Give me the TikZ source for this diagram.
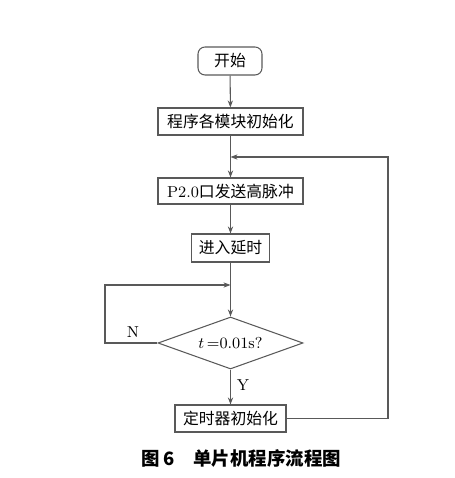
\documentclass[tikz,border=0pt]{standalone}
\usepackage{fontspec}
\newfontfamily\cjk{Noto Sans CJK SC}
\usepackage{tikz}
\usetikzlibrary{arrows.meta, shapes.geometric, calc}

\begin{document}
\begin{tikzpicture}[>={Stealth[length=4pt,width=3pt]},
    every node/.style={font=\fontsize{9}{11}\selectfont},
    line/.style={draw=black!65, line width=0.6pt},
    proc/.style={line, rectangle, minimum height=0.54cm, inner sep=2pt},
    term/.style={proc, rounded corners=4pt, minimum width=1.28cm, minimum height=0.56cm},
    cond/.style={line, diamond, aspect=2.8, inner sep=0pt, minimum width=2.9cm, minimum height=1.04cm}]
    \useasboundingbox (0,0) rectangle (9.1,9.56);
    \node[term] (start) at (4.6,8.34) {\cjk 开始};
    \node[proc, minimum width=2.9cm] (init) at (4.61,7.13) {\cjk 程序各模块初始化};
    \coordinate (j1) at (4.61,6.42);
    \node[proc, minimum width=2.9cm, minimum height=0.52cm] (pulse) at (4.61,5.74) {P2.0{\cjk 口发送高脉冲}};
    \node[proc, minimum width=1.56cm, minimum height=0.56cm] (delay) at (4.61,4.6) {\cjk 进入延时};
    \coordinate (j2) at (4.61,3.86);
    \node[cond] (test) at (4.61,2.7) {$t$\,=0.01s?};
    \node[proc, minimum width=2.22cm] (timer) at (4.61,1.19) {\cjk 定时器初始化};
    % main flow
    \draw[line,->] (start) -- (init);
    \draw[line,->] (init) -- (pulse);
    \draw[line,->] (pulse) -- (delay);
    \draw[line,->] (delay) -- (test);
    \draw[line,->] (test) -- node[right, pos=0.45] {Y} (timer);
    % loops back
    \draw[line,->] (test.west) -- (2.1,2.7) |- (j2);
    \node (n) at (2.66,2.92) {N};
    \draw[line,->] (timer.east) -- (7.76,1.19) |- (j1);
    % caption
    \node[font=\fontsize{10.5}{12}\selectfont] (cap) at (4.82,0.4) {\cjk\bfseries 图 6\quad 单片机程序流程图};
\end{tikzpicture}
\end{document}
